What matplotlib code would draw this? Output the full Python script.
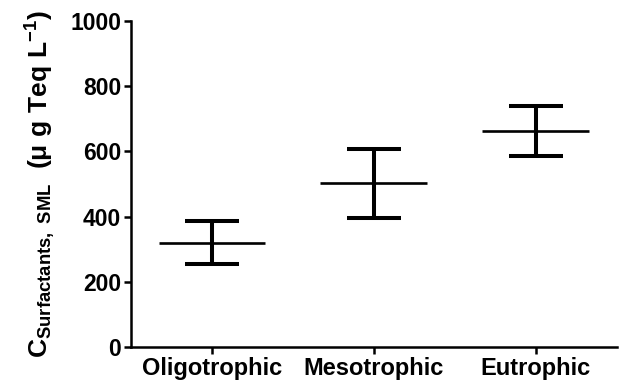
import matplotlib
matplotlib.use("Agg")
import matplotlib.pyplot as plt

plt.rcParams['font.family'] = ['Liberation Sans', 'DejaVu Sans']
plt.rcParams['font.weight'] = 'bold'
plt.rcParams['mathtext.fontset'] = 'custom'
plt.rcParams['mathtext.rm'] = 'Liberation Sans:bold'
plt.rcParams['mathtext.bf'] = 'Liberation Sans:bold'
plt.rcParams['mathtext.it'] = 'Liberation Sans:bold'

# trophic state groups, mean and error (µg Teq / L)
groups = ["Oligotrophic", "Mesotrophic", "Eutrophic"]
means = [320, 502, 662]
errors = [66, 105, 77]
yticks = [0, 200, 400, 600, 800, 1000]

fig = plt.figure(figsize=(6.19, 3.86), dpi=100)
ax = fig.add_axes([0.2116, 0.101, 0.785, 0.8446])

x = list(range(len(groups)))
ax.hlines(means, [i - 0.33 for i in x], [i + 0.33 for i in x],
          colors='black', linewidth=1.9)
ax.errorbar(x, means, yerr=errors, fmt='none', ecolor='black',
            elinewidth=2.9, capsize=19.5, capthick=2.9)

ax.set_xlim(-0.5, 2.5)
ax.set_ylim(0, 1000)
ax.set_xticks(x)
ax.set_xticklabels(groups, fontsize=17, fontweight='bold')
ax.set_yticks(yticks)
ax.set_yticklabels([str(t) for t in yticks], fontsize=16.5, fontweight='bold')

for side in ['top', 'right']:
    ax.spines[side].set_visible(False)
for side in ['left', 'bottom']:
    ax.spines[side].set_linewidth(1.8)
ax.tick_params(axis='both', width=1.8, length=5, pad=2, colors='black')

ax.set_ylabel(r'$\mathbf{C_{Surfactants,\ SML}}$  $\mathbf{(\mu\ g\ Teq\ L^{-1})}$',
              fontsize=19, labelpad=9)

fig.savefig("out.png", dpi=100)
